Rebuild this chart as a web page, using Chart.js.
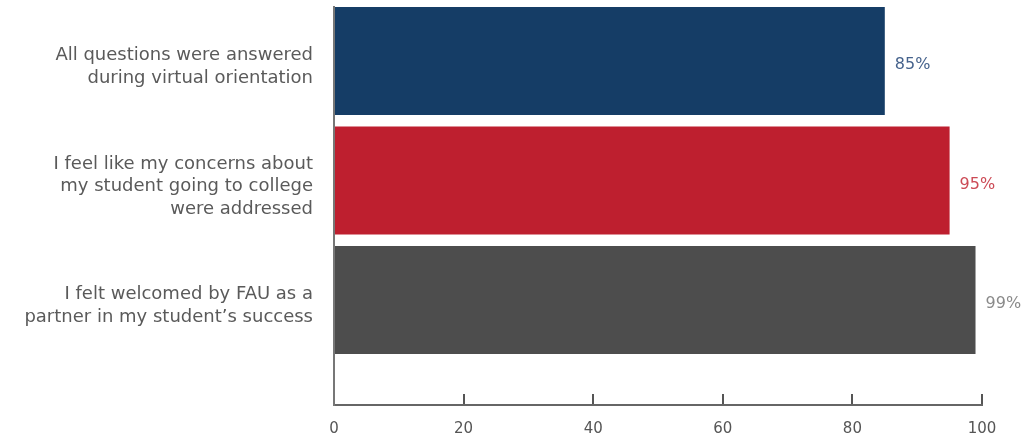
<!DOCTYPE html>
<html>
<head>
<meta charset="utf-8">
<script src="https://cdn.jsdelivr.net/npm/chart.js@4/dist/chart.umd.min.js"></script>
<style>
  html, body { margin: 0; padding: 0; background: #fff; }
  #wrap { width: 1029px; height: 438px; }
</style>
</head>
<body>
<div id="wrap"><canvas id="survey"></canvas></div>
<script>
const statements = [
  ["All questions were answered", "during virtual orientation"],
  ["I feel like my concerns about", "my student going to college", "were addressed"],
  ["I felt welcomed by FAU as a", "partner in my student\u2019s success"]
];
const percents = [85, 95, 99];
const barColors = ["#153d66", "#be1f2f", "#4d4d4d"];
const labelColors = ["#45628c", "#cc4a55", "#8a8a8a"];
const xTicks = [0, 20, 40, 60, 80, 100];

const valueLabels = {
  id: "valueLabels",
  afterDatasetsDraw(chart) {
    const ctx = chart.ctx;
    const meta = chart.getDatasetMeta(0);
    ctx.save();
    ctx.font = "16px 'DejaVu Sans'";
    ctx.textBaseline = "middle";
    ctx.textAlign = "left";
    meta.data.forEach((bar, i) => {
      ctx.fillStyle = labelColors[i];
      ctx.fillText(percents[i] + "%", bar.x + 10, bar.y + 4);
    });
    ctx.restore();
  }
};

const ctx = document.getElementById("survey").getContext("2d");
const surveyChart = new Chart(ctx, {
  type: "bar",
  data: {
    datasets: [{
      data: percents.map((v, i) => ({ x: v, y: i })),
      backgroundColor: barColors,
      borderWidth: 0,
      categoryPercentage: 1,
      barPercentage: 0.904
    }]
  },
  options: {
    indexAxis: "y",
    responsive: true,
    maintainAspectRatio: false,
    animation: false,
    layout: { padding: { top: 7, right: 47, bottom: 0, left: 0 } },
    plugins: { legend: { display: false }, tooltip: { enabled: false } },
    scales: {
      x: {
        type: "linear",
        min: 0,
        max: 100,
        afterBuildTicks: (scale) => { scale.ticks = xTicks.map(v => ({ value: v })); },
        afterFit: (scale) => { scale.height = 33; },
        grid: { display: true, drawOnChartArea: false, drawTicks: true, tickLength: -11, color: "#555", lineWidth: 2 },
        border: { display: true, color: "#666", width: 2 },
        ticks: { padding: 26, color: "#555", font: { family: "'DejaVu Sans'", size: 15 } }
      },
      y: {
        type: "linear",
        offset: false,
        reverse: true,
        min: -0.452,
        max: 2.879,
        afterBuildTicks: (scale) => { scale.ticks = statements.map((s, i) => ({ value: i })); },
        afterFit: (scale) => {
          scale.width = 334;
          scale.paddingTop = 0;
          scale.paddingBottom = 0;
        },
        grid: { display: false, drawTicks: false, offset: false },
        border: { display: true, color: "#777", width: 2 },
        ticks: {
          padding: 21,
          labelOffset: 6,
          color: "#5a5a5a",
          font: { family: "'DejaVu Sans'", size: 18, lineHeight: 1.25 },
          callback: (v) => statements[v]
        }
      }
    }
  },
  plugins: [valueLabels]
});
</script>
</body>
</html>
